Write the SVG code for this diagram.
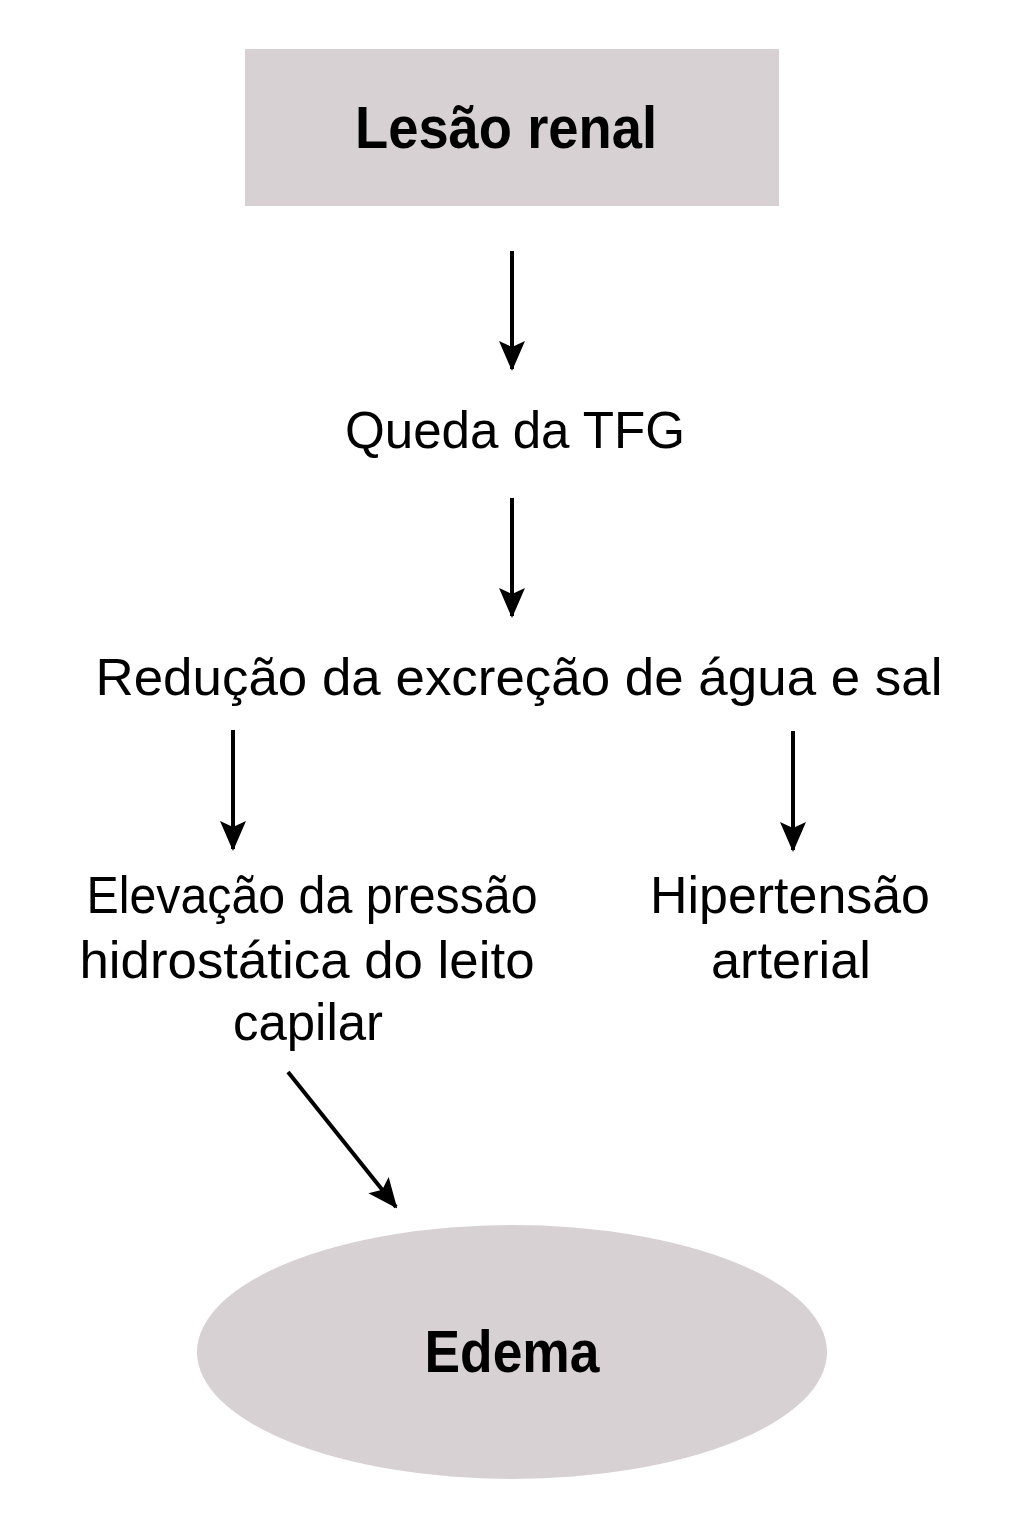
<svg xmlns="http://www.w3.org/2000/svg" width="1024" height="1536" viewBox="0 0 1024 1536">
<style>
.t{font-family:"Liberation Sans",Arial,sans-serif;font-size:52px;fill:#000;text-anchor:middle}
.b{font-family:"Liberation Sans",Arial,sans-serif;font-weight:bold;font-size:59px;fill:#000;text-anchor:middle}
.c{stroke:#000;stroke-width:4;fill:none}
.shape{fill:#d8d1d4}
</style>
<defs>
<marker id="ah" markerUnits="userSpaceOnUse" markerWidth="30" markerHeight="30" refX="28" refY="13" orient="auto" viewBox="0 0 30 26">
<path d="M0,0 L30,13 L0,26 L6,13 Z" fill="#000"/>
</marker>
</defs>
<rect width="1024" height="1536" fill="#fff"/>
<g id="n1"><rect class="shape" x="245" y="49" width="534" height="157"/><text class="b" x="506" y="148" textLength="302" lengthAdjust="spacingAndGlyphs">Lesão renal</text></g>
<g id="n2"><text class="t" x="515" y="448" textLength="340" lengthAdjust="spacingAndGlyphs">Queda da TFG</text></g>
<g id="n3"><text class="t" x="519" y="695" textLength="847" lengthAdjust="spacingAndGlyphs">Redução da excreção de água e sal</text></g>
<g id="n4"><text class="t" x="312" y="913" textLength="451" lengthAdjust="spacingAndGlyphs">Elevação da pressão</text><text class="t" x="307" y="978" textLength="455" lengthAdjust="spacingAndGlyphs">hidrostática do leito</text><text class="t" x="308" y="1040" textLength="150" lengthAdjust="spacingAndGlyphs">capilar</text></g>
<g id="n5"><text class="t" x="790" y="913" textLength="280" lengthAdjust="spacingAndGlyphs">Hipertensão</text><text class="t" x="791" y="978" textLength="160" lengthAdjust="spacingAndGlyphs">arterial</text></g>
<g id="n6"><ellipse class="shape" cx="512" cy="1352" rx="315" ry="127"/><text class="b" x="512" y="1372" textLength="175" lengthAdjust="spacingAndGlyphs">Edema</text></g>
<g id="connectors">
<line class="c" x1="512" y1="251" x2="512" y2="369" marker-end="url(#ah)"/>
<line class="c" x1="512" y1="498" x2="512" y2="616" marker-end="url(#ah)"/>
<line class="c" x1="233" y1="730" x2="233" y2="849" marker-end="url(#ah)"/>
<line class="c" x1="793" y1="731" x2="793" y2="850" marker-end="url(#ah)"/>
<line class="c" x1="288" y1="1072" x2="396" y2="1207" marker-end="url(#ah)"/>
</g>
</svg>
